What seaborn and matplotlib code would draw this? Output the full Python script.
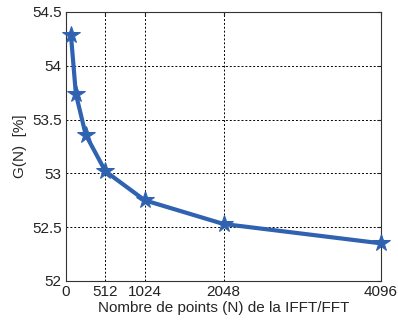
import matplotlib
matplotlib.use("Agg")
import matplotlib.pyplot as plt
import seaborn as sns
import pandas as pd

N_points = [64, 128, 256, 512, 1024, 2048, 4096]
gain = [54.29, 53.74, 53.36, 53.02, 52.75, 52.53, 52.35]
x_ticks = [0, 512, 1024, 2048, 4096]
y_ticks = [52, 52.5, 53, 53.5, 54, 54.5]
y_tick_labels = ["52", "52.5", "53", "53.5", "54", "54.5"]

sns.set_style("white")
plt.rcParams['font.family'] = ['Liberation Sans', 'DejaVu Sans']

df = pd.DataFrame({"N": N_points, "G": gain})

fig = plt.figure(figsize=(3.98, 3.21), dpi=100)
ax = fig.add_axes([66/398, 40/321, 315/398, 269/321])
sns.lineplot(data=df, x="N", y="G", ax=ax, color="#2F62B0", linewidth=3,
             marker="*", markersize=13, markeredgecolor="#2F62B0", clip_on=False,
             zorder=5)

ax.set_xlim(0, 4096)
ax.set_ylim(52, 54.5)
ax.set_xticks(x_ticks)
ax.set_xticklabels([str(v) for v in x_ticks])
ax.set_yticks(y_ticks)
ax.set_yticklabels(y_tick_labels)
ax.grid(True, linestyle=(0, (2, 2)), color="black", linewidth=0.7)
ax.set_axisbelow(True)
for s in ax.spines.values():
    s.set_color("#333333")
    s.set_linewidth(0.8)
ax.tick_params(direction="in", length=3, labelsize=11, colors="#222222",
               top=True, right=True, pad=3)
ax.set_xlabel("Nombre de points (N) de la IFFT/FFT", fontsize=11, labelpad=1)
ax.set_ylabel("G(N)  [%]", fontsize=11, labelpad=4)

fig.savefig("out.png", dpi=100)
